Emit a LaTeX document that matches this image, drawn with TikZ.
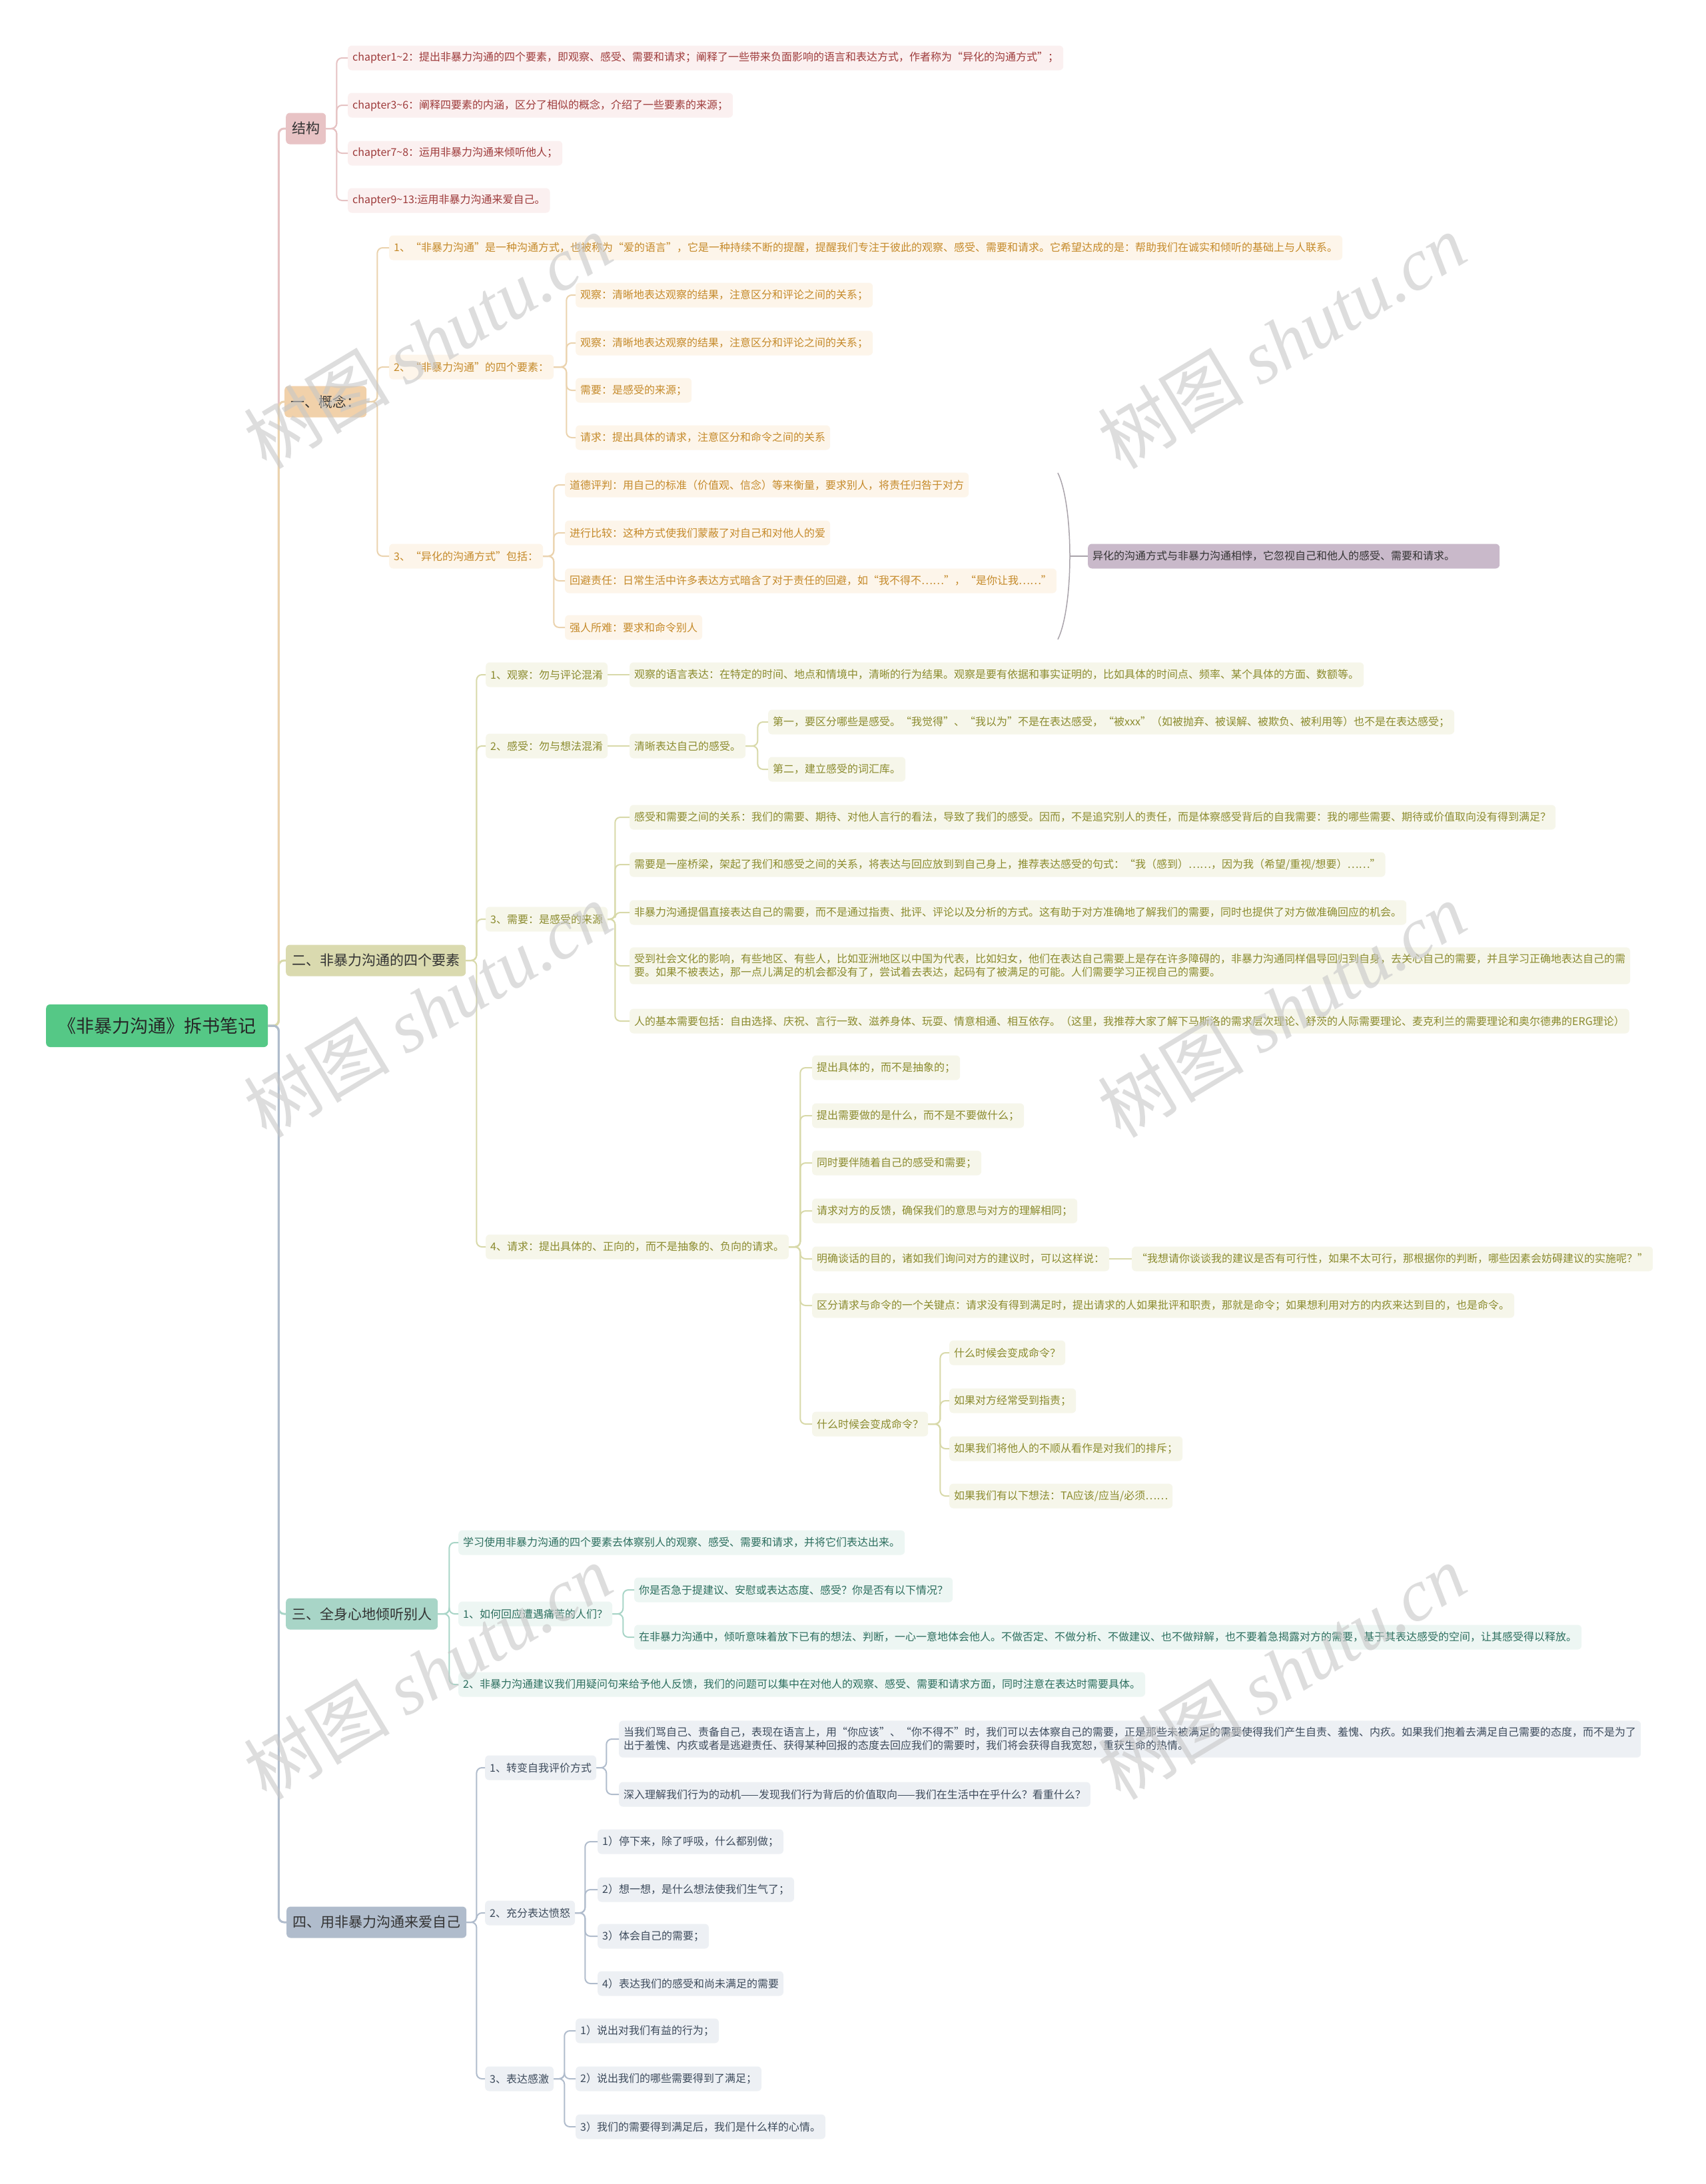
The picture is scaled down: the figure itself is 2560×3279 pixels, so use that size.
\documentclass[tikz,border=0pt]{standalone}
\usepackage{fontspec}
\setmainfont{Noto Sans CJK SC}
\newfontfamily\wmserif{Liberation Serif}

\definecolor{cradice}{HTML}{55C886}
\definecolor{jgscuro}{HTML}{E8C3C5}
\definecolor{jgchiaro}{HTML}{FBF0F0}
\definecolor{jgtesto}{HTML}{9E3B3B}
\definecolor{jglinea}{HTML}{E6C2C3}
\definecolor{gnscuro}{HTML}{F1D1AA}
\definecolor{gnchiaro}{HTML}{FDF5EA}
\definecolor{gntesto}{HTML}{C58A2A}
\definecolor{gnlinea}{HTML}{EBD3AE}
\definecolor{ysscuro}{HTML}{DADAAF}
\definecolor{yschiaro}{HTML}{F6F6EA}
\definecolor{ystesto}{HTML}{8B8B2E}
\definecolor{yslinea}{HTML}{D8D9A9}
\definecolor{qtscuro}{HTML}{A8D5C7}
\definecolor{qtchiaro}{HTML}{EDF6F3}
\definecolor{qttesto}{HTML}{2C6E5E}
\definecolor{qtlinea}{HTML}{A8D5C7}
\definecolor{aiscuro}{HTML}{B0BCCC}
\definecolor{aichiaro}{HTML}{EDF0F4}
\definecolor{aitesto}{HTML}{3D4B5C}
\definecolor{ailinea}{HTML}{B0BCCC}
\definecolor{yhscuro}{HTML}{C9B9CA}
\definecolor{graffa}{HTML}{A9A3AA}

\tikzset{
  radice/.style={fill=cradice, rounded corners=6, minimum height=64, inner xsep=18,
    font=\fontsize{27}{32}\selectfont, text=black!85, anchor=west},
  ramo/.style={rounded corners=6, minimum height=47, inner xsep=9,
    font=\fontsize{21}{25}\selectfont, text=black!80, anchor=west},
  foglia/.style={rounded corners=6, minimum height=37, inner xsep=7, inner ysep=4,
    font=\fontsize{16}{20}\selectfont, anchor=west, align=left},
  linea/.style={line width=2, rounded corners=8},
  bjg/.style={ramo, fill=jgscuro}, fjg/.style={foglia, fill=jgchiaro, text=jgtesto}, ljg/.style={linea, draw=jglinea},
  bgn/.style={ramo, fill=gnscuro}, fgn/.style={foglia, fill=gnchiaro, text=gntesto}, lgn/.style={linea, draw=gnlinea},
  bys/.style={ramo, fill=ysscuro}, fys/.style={foglia, fill=yschiaro, text=ystesto}, lys/.style={linea, draw=yslinea},
  bqt/.style={ramo, fill=qtscuro}, fqt/.style={foglia, fill=qtchiaro, text=qttesto}, lqt/.style={linea, draw=qtlinea},
  bai/.style={ramo, fill=aiscuro}, fai/.style={foglia, fill=aichiaro, text=aitesto}, lai/.style={linea, draw=ailinea},
  filigrana/.style={rotate=31, text=black!22, text opacity=0.6, font=\fontsize{110}{110}\selectfont}
}

\begin{document}
\begin{tikzpicture}[x=1pt, y=-1pt]
    \useasboundingbox (0,0) rectangle (2560,3279);
    \fill[white] (0,0) rectangle (2560,3279);

    % --- Radice ---
    \node[radice] (radice) at (69,1540) {《非暴力沟通》拆书笔记};

    % --- Rami principali ---
    \node[bjg] (jg) at (429,193) {结构};
    \node[bgn] (gn) at (427,603) {一、概念：};
    \node[bys] (ys) at (429,1442) {二、非暴力沟通的四个要素};
    \node[bqt] (qt) at (429,2423) {三、全身心地倾听别人};
    \node[bai] (ai) at (430,2886) {四、用非暴力沟通来爱自己};

    \draw[ljg, line width=3] (radice.east) -- ++(16,0) |- (jg.west);
    \draw[lgn, line width=3] (radice.east) -- ++(16,0) |- (gn.west);
    \draw[lys, line width=3] (radice.east) -- ++(16,0) |- (ys.west);
    \draw[lqt, line width=3] (radice.east) -- ++(16,0) |- (qt.west);
    \draw[lai, line width=3] (radice.east) -- ++(16,0) |- (ai.west);

    % --- Ramo: 结构 ---
    \node[fjg] (jg1) at (522,87) {chapter1\textasciitilde2：提出非暴力沟通的四个要素，即观察、感受、需要和请求；阐释了一些带来负面影响的语言和表达方式，作者称为“异化的沟通方式”；};
    \node[fjg] (jg2) at (522,158) {chapter3\textasciitilde6：阐释四要素的内涵，区分了相似的概念，介绍了一些要素的来源；};
    \node[fjg] (jg3) at (522,230) {chapter7\textasciitilde8：运用非暴力沟通来倾听他人；};
    \node[fjg] (jg4) at (522,301) {chapter9\textasciitilde13:运用非暴力沟通来爱自己。};

    \draw[ljg] (jg.east) -- ++(16,0) |- (jg1.west);
    \draw[ljg] (jg.east) -- ++(16,0) |- (jg2.west);
    \draw[ljg] (jg.east) -- ++(16,0) |- (jg3.west);
    \draw[ljg] (jg.east) -- ++(16,0) |- (jg4.west);

    % --- Ramo: 概念 ---
    \node[fgn] (gn1) at (584,372) {1、“非暴力沟通”是一种沟通方式，也被称为“爱的语言”，它是一种持续不断的提醒，提醒我们专注于彼此的观察、感受、需要和请求。它希望达成的是：帮助我们在诚实和倾听的基础上与人联系。};
    \node[fgn] (gn2) at (584,551) {2、“非暴力沟通”的四个要素：};
    \node[fgn] (gn3) at (584,835) {3、“异化的沟通方式”包括：};

    \draw[lgn] (gn.east) -- ++(16,0) |- (gn1.west);
    \draw[lgn] (gn.east) -- ++(16,0) |- (gn2.west);
    \draw[lgn] (gn.east) -- ++(16,0) |- (gn3.west);

    \node[fgn] (gn2a) at (864,443) {观察：清晰地表达观察的结果，注意区分和评论之间的关系；};
    \node[fgn] (gn2b) at (864,515) {观察：清晰地表达观察的结果，注意区分和评论之间的关系；};
    \node[fgn] (gn2c) at (864,586) {需要：是感受的来源；};
    \node[fgn] (gn2d) at (864,657) {请求：提出具体的请求，注意区分和命令之间的关系};

    \draw[lgn] (gn2.east) -- ++(19,0) |- (gn2a.west);
    \draw[lgn] (gn2.east) -- ++(19,0) |- (gn2b.west);
    \draw[lgn] (gn2.east) -- ++(19,0) |- (gn2c.west);
    \draw[lgn] (gn2.east) -- ++(19,0) |- (gn2d.west);

    \node[fgn] (gn3a) at (848,728) {道德评判：用自己的标准（价值观、信念）等来衡量，要求别人，将责任归咎于对方};
    \node[fgn] (gn3b) at (848,800) {进行比较：这种方式使我们蒙蔽了对自己和对他人的爱};
    \node[fgn] (gn3c) at (848,872) {回避责任：日常生活中许多表达方式暗含了对于责任的回避，如“我不得不……”，“是你让我……”};
    \node[fgn] (gn3d) at (848,942) {强人所难：要求和命令别人};

    \draw[lgn] (gn3.east) -- ++(16,0) |- (gn3a.west);
    \draw[lgn] (gn3.east) -- ++(16,0) |- (gn3b.west);
    \draw[lgn] (gn3.east) -- ++(16,0) |- (gn3c.west);
    \draw[lgn] (gn3.east) -- ++(16,0) |- (gn3d.west);

    % graffa e sintesi
    \coordinate (grA) at (1588,710);
    \coordinate (grB) at (1588,960);
    \coordinate (grM) at (1606,835);
    \node[foglia, fill=yhscuro, text=black!80, text width=604] (yh) at (1633,835) {异化的沟通方式与非暴力沟通相悖，它忽视自己和他人的感受、需要和请求。};
    \draw[graffa, line width=1.5] (grA) .. controls (1612,760) and (1612,910) .. (grB);
    \draw[graffa, line width=2] (grM) -- (yh.west);

    % --- Ramo: 四个要素 ---
    \node[fys] (ys1) at (729,1013) {1、观察：勿与评论混淆};
    \node[fys] (ys2) at (729,1120) {2、感受：勿与想法混淆};
    \node[fys] (ys3) at (729,1380) {3、需要：是感受的来源};
    \node[fys] (ys4) at (729,1872) {4、请求：提出具体的、正向的，而不是抽象的、负向的请求。};

    \draw[lys] (ys.east) -- ++(16,0) |- (ys1.west);
    \draw[lys] (ys.east) -- ++(16,0) |- (ys2.west);
    \draw[lys] (ys.east) -- ++(16,0) |- (ys3.west);
    \draw[lys] (ys.east) -- ++(16,0) |- (ys4.west);

    \node[fys] (ys1a) at (945,1013) {观察的语言表达：在特定的时间、地点和情境中，清晰的行为结果。观察是要有依据和事实证明的，比如具体的时间点、频率、某个具体的方面、数额等。};
    \draw[lys] (ys1.east) -- (ys1a.west);

    \node[fys] (ys2a) at (945,1120) {清晰表达自己的感受。};
    \draw[lys] (ys2.east) -- (ys2a.west);
    \node[fys] (ys2a1) at (1153,1084) {第一，要区分哪些是感受。“我觉得”、“我以为”不是在表达感受，“被xxx”（如被抛弃、被误解、被欺负、被利用等）也不是在表达感受；};
    \node[fys] (ys2a2) at (1153,1155) {第二，建立感受的词汇库。};
    \draw[lys] (ys2a.east) -- ++(18,0) |- (ys2a1.west);
    \draw[lys] (ys2a.east) -- ++(18,0) |- (ys2a2.west);

    \node[fys] (ys3a) at (945,1227) {感受和需要之间的关系：我们的需要、期待、对他人言行的看法，导致了我们的感受。因而，不是追究别人的责任，而是体察感受背后的自我需要：我的哪些需要、期待或价值取向没有得到满足？};
    \node[fys] (ys3b) at (945,1298) {需要是一座桥梁，架起了我们和感受之间的关系，将表达与回应放到到自己身上，推荐表达感受的句式：“我（感到）……，因为我（希望/重视/想要）……”};
    \node[fys] (ys3c) at (945,1370) {非暴力沟通提倡直接表达自己的需要，而不是通过指责、批评、评论以及分析的方式。这有助于对方准确地了解我们的需要，同时也提供了对方做准确回应的机会。};
    \node[fys, inner ysep=10] (ys3d) at (945,1450) {受到社会文化的影响，有些地区、有些人，比如亚洲地区以中国为代表，比如妇女，他们在表达自己需要上是存在许多障碍的，非暴力沟通同样倡导回归到自身，去关心自己的需要，并且学习正确地表达自己的需\\要。如果不被表达，那一点儿满足的机会都没有了，尝试着去表达，起码有了被满足的可能。人们需要学习正视自己的需要。};
    \node[fys] (ys3e) at (945,1533) {人的基本需要包括：自由选择、庆祝、言行一致、滋养身体、玩耍、情意相通、相互依存。（这里，我推荐大家了解下马斯洛的需求层次理论、舒茨的人际需要理论、麦克利兰的需要理论和奥尔德弗的ERG理论）};

    \draw[lys] (ys3.east) -- ++(11,0) |- (ys3a.west);
    \draw[lys] (ys3.east) -- ++(11,0) |- (ys3b.west);
    \draw[lys] (ys3.east) -- ++(11,0) |- (ys3c.west);
    \draw[lys] (ys3.east) -- ++(11,0) |- (ys3d.west);
    \draw[lys] (ys3.east) -- ++(11,0) |- (ys3e.west);

    \node[fys] (ys4a) at (1219,1603) {提出具体的，而不是抽象的；};
    \node[fys] (ys4b) at (1219,1675) {提出需要做的是什么，而不是不要做什么；};
    \node[fys] (ys4c) at (1219,1746) {同时要伴随着自己的感受和需要；};
    \node[fys] (ys4d) at (1219,1818) {请求对方的反馈，确保我们的意思与对方的理解相同；};
    \node[fys] (ys4e) at (1219,1890) {明确谈话的目的，诸如我们询问对方的建议时，可以这样说：};
    \node[fys] (ys4f) at (1219,1960) {区分请求与命令的一个关键点：请求没有得到满足时，提出请求的人如果批评和职责，那就是命令；如果想利用对方的内疚来达到目的，也是命令。};
    \node[fys] (ys4g) at (1219,2138) {什么时候会变成命令？};

    \draw[lys] (ys4.east) -- ++(17,0) |- (ys4a.west);
    \draw[lys] (ys4.east) -- ++(17,0) |- (ys4b.west);
    \draw[lys] (ys4.east) -- ++(17,0) |- (ys4c.west);
    \draw[lys] (ys4.east) -- ++(17,0) |- (ys4d.west);
    \draw[lys] (ys4.east) -- ++(17,0) |- (ys4e.west);
    \draw[lys] (ys4.east) -- ++(17,0) |- (ys4f.west);
    \draw[lys] (ys4.east) -- ++(17,0) |- (ys4g.west);

    \node[fys] (ys4e1) at (1699,1890) {“我想请你谈谈我的建议是否有可行性，如果不太可行，那根据你的判断，哪些因素会妨碍建议的实施呢？”};
    \draw[lys] (ys4e.east) -- (ys4e1.west);

    \node[fys] (ys4g1) at (1425,2031) {什么时候会变成命令？};
    \node[fys] (ys4g2) at (1425,2103) {如果对方经常受到指责；};
    \node[fys] (ys4g3) at (1425,2175) {如果我们将他人的不顺从看作是对我们的排斥；};
    \node[fys] (ys4g4) at (1425,2246) {如果我们有以下想法：TA应该/应当/必须……};

    \draw[lys] (ys4g.east) -- ++(18,0) |- (ys4g1.west);
    \draw[lys] (ys4g.east) -- ++(18,0) |- (ys4g2.west);
    \draw[lys] (ys4g.east) -- ++(18,0) |- (ys4g3.west);
    \draw[lys] (ys4g.east) -- ++(18,0) |- (ys4g4.west);

    % --- Ramo: 倾听 ---
    \node[fqt] (qt1) at (688,2316) {学习使用非暴力沟通的四个要素去体察别人的观察、感受、需要和请求，并将它们表达出来。};
    \node[fqt] (qt2) at (688,2423) {1、如何回应遭遇痛苦的人们？};
    \node[fqt] (qt3) at (688,2529) {2、非暴力沟通建议我们用疑问句来给予他人反馈，我们的问题可以集中在对他人的观察、感受、需要和请求方面，同时注意在表达时需要具体。};

    \draw[lqt] (qt.east) -- ++(17,0) |- (qt1.west);
    \draw[lqt] (qt.east) -- ++(17,0) |- (qt2.west);
    \draw[lqt] (qt.east) -- ++(17,0) |- (qt3.west);

    \node[fqt] (qt2a) at (952,2387) {你是否急于提建议、安慰或表达态度、感受？你是否有以下情况？};
    \node[fqt] (qt2b) at (952,2458) {在非暴力沟通中，倾听意味着放下已有的想法、判断，一心一意地体会他人。不做否定、不做分析、不做建议、也不做辩解，也不要着急揭露对方的需要，基于其表达感受的空间，让其感受得以释放。};

    \draw[lqt] (qt2.east) -- ++(16,0) |- (qt2a.west);
    \draw[lqt] (qt2.east) -- ++(16,0) |- (qt2b.west);

    % --- Ramo: 爱自己 ---
    \node[fai] (ai1) at (728,2654) {1、转变自我评价方式};
    \node[fai] (ai2) at (728,2872) {2、充分表达愤怒};
    \node[fai] (ai3) at (728,3121) {3、表达感激};

    \draw[lai] (ai.east) -- ++(15,0) |- (ai1.west);
    \draw[lai] (ai.east) -- ++(15,0) |- (ai2.west);
    \draw[lai] (ai.east) -- ++(15,0) |- (ai3.west);

    \node[fai, inner ysep=10] (ai1a) at (929,2611) {当我们骂自己、责备自己，表现在语言上，用“你应该”、“你不得不”时，我们可以去体察自己的需要，正是那些未被满足的需要使得我们产生自责、羞愧、内疚。如果我们抱着去满足自己需要的态度，而不是为了\\出于羞愧、内疚或者是逃避责任、获得某种回报的态度去回应我们的需要时，我们将会获得自我宽恕，重获生命的热情。};
    \node[fai] (ai1b) at (929,2694) {深入理解我们行为的动机——发现我们行为背后的价值取向——我们在生活中在乎什么？看重什么？};

    \draw[lai] (ai1.east) -- ++(15,0) |- (ai1a.west);
    \draw[lai] (ai1.east) -- ++(15,0) |- (ai1b.west);

    \node[fai] (ai2a) at (897,2765) {1）停下来，除了呼吸，什么都别做；};
    \node[fai] (ai2b) at (897,2837) {2）想一想，是什么想法使我们生气了；};
    \node[fai] (ai2c) at (897,2907) {3）体会自己的需要；};
    \node[fai] (ai2d) at (897,2978) {4）表达我们的感受和尚未满足的需要};

    \draw[lai] (ai2.east) -- ++(15,0) |- (ai2a.west);
    \draw[lai] (ai2.east) -- ++(15,0) |- (ai2b.west);
    \draw[lai] (ai2.east) -- ++(15,0) |- (ai2c.west);
    \draw[lai] (ai2.east) -- ++(15,0) |- (ai2d.west);

    \node[fai] (ai3a) at (864,3049) {1）说出对我们有益的行为；};
    \node[fai] (ai3b) at (864,3121) {2）说出我们的哪些需要得到了满足；};
    \node[fai] (ai3c) at (864,3193) {3）我们的需要得到满足后，我们是什么样的心情。};

    \draw[lai] (ai3.east) -- ++(16,0) |- (ai3a.west);
    \draw[lai] (ai3.east) -- ++(16,0) |- (ai3b.west);
    \draw[lai] (ai3.east) -- ++(16,0) |- (ai3c.west);

    % --- Filigrana ---
    \node[filigrana] (wm1) at (642,512) {树图 {\wmserif\itshape shutu.cn}};
    \node[filigrana] (wm2) at (1924,512) {树图 {\wmserif\itshape shutu.cn}};
    \node[filigrana] (wm3) at (642,1516) {树图 {\wmserif\itshape shutu.cn}};
    \node[filigrana] (wm4) at (1924,1516) {树图 {\wmserif\itshape shutu.cn}};
    \node[filigrana] (wm5) at (642,2510) {树图 {\wmserif\itshape shutu.cn}};
    \node[filigrana] (wm6) at (1924,2510) {树图 {\wmserif\itshape shutu.cn}};
\end{tikzpicture}
\end{document}
